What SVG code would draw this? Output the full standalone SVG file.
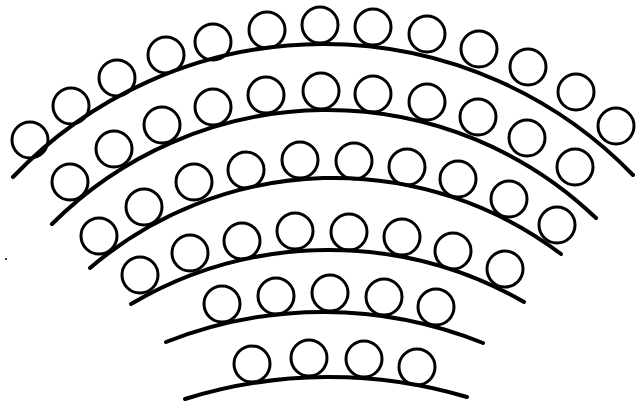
<svg xmlns="http://www.w3.org/2000/svg" width="638" height="401" viewBox="0 0 638 401">
<style>
.seat{fill:none;stroke:#000;stroke-width:3}
.row{fill:none;stroke:#000;stroke-width:4;stroke-linecap:round}
</style>
<rect width="638" height="401" fill="#fff"/>
<g id="rows">
<path class="row" d="M13,177 A430,430 0 0 1 633,175"/>
<path class="row" d="M52,224 A389,389 0 0 1 596,218"/>
<path class="row" d="M90,268 A376,376 0 0 1 561,254"/>
<path class="row" d="M131,304 A391,391 0 0 1 524,302"/>
<path class="row" d="M166,342 A427,427 0 0 1 483,343"/>
<path class="row" d="M185,399 A484,484 0 0 1 467,397"/>
</g>
<g id="row1">
<circle class="seat" cx="30" cy="140" r="18"/>
<circle class="seat" cx="71" cy="106" r="18"/>
<circle class="seat" cx="117" cy="78" r="18"/>
<circle class="seat" cx="166" cy="55" r="18"/>
<circle class="seat" cx="213" cy="42" r="18"/>
<circle class="seat" cx="267" cy="30" r="18"/>
<circle class="seat" cx="320" cy="25" r="18"/>
<circle class="seat" cx="373" cy="27" r="18"/>
<circle class="seat" cx="427" cy="34" r="18"/>
<circle class="seat" cx="479" cy="49" r="18"/>
<circle class="seat" cx="528" cy="67" r="18"/>
<circle class="seat" cx="576" cy="92" r="18"/>
<circle class="seat" cx="616" cy="126" r="18"/>
</g>
<g id="row2">
<circle class="seat" cx="70" cy="182" r="18"/>
<circle class="seat" cx="114" cy="149" r="18"/>
<circle class="seat" cx="162" cy="125" r="18"/>
<circle class="seat" cx="213" cy="107" r="18"/>
<circle class="seat" cx="266" cy="95" r="18"/>
<circle class="seat" cx="321" cy="91" r="18"/>
<circle class="seat" cx="373" cy="94" r="18"/>
<circle class="seat" cx="427" cy="102" r="18"/>
<circle class="seat" cx="478" cy="117" r="18"/>
<circle class="seat" cx="527" cy="138" r="18"/>
<circle class="seat" cx="575" cy="167" r="18"/>
</g>
<g id="row3">
<circle class="seat" cx="99" cy="236" r="18"/>
<circle class="seat" cx="144" cy="207" r="18"/>
<circle class="seat" cx="194" cy="182" r="18"/>
<circle class="seat" cx="246" cy="170" r="18"/>
<circle class="seat" cx="300" cy="160" r="18"/>
<circle class="seat" cx="354" cy="161" r="18"/>
<circle class="seat" cx="407" cy="167" r="18"/>
<circle class="seat" cx="458" cy="179" r="18"/>
<circle class="seat" cx="509" cy="199" r="18"/>
<circle class="seat" cx="557" cy="225" r="18"/>
</g>
<g id="row4">
<circle class="seat" cx="140" cy="275" r="18"/>
<circle class="seat" cx="190" cy="253" r="18"/>
<circle class="seat" cx="242" cy="241" r="18"/>
<circle class="seat" cx="295" cy="231" r="18"/>
<circle class="seat" cx="349" cy="232" r="18"/>
<circle class="seat" cx="402" cy="237" r="18"/>
<circle class="seat" cx="453" cy="251" r="18"/>
<circle class="seat" cx="505" cy="269" r="18"/>
</g>
<g id="row5">
<circle class="seat" cx="222" cy="304" r="18"/>
<circle class="seat" cx="276" cy="296" r="18"/>
<circle class="seat" cx="330" cy="293" r="18"/>
<circle class="seat" cx="384" cy="297" r="18"/>
<circle class="seat" cx="436" cy="307" r="18"/>
</g>
<g id="row6">
<circle class="seat" cx="252" cy="364" r="18"/>
<circle class="seat" cx="309" cy="358" r="18"/>
<circle class="seat" cx="364" cy="359" r="18"/>
<circle class="seat" cx="417" cy="367" r="18"/>
</g>
<circle cx="6" cy="259" r="1" fill="#000"/>
</svg>
